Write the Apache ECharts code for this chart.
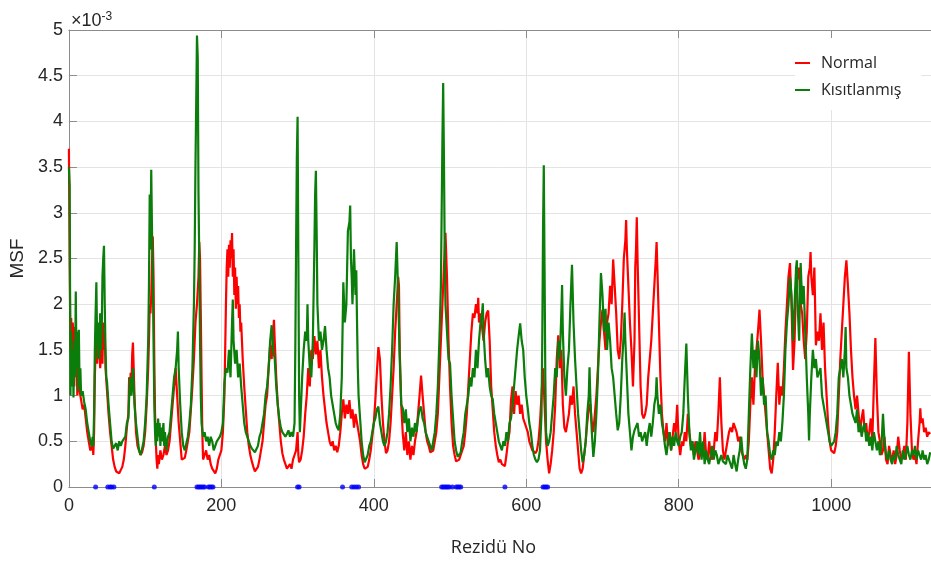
<!DOCTYPE html>
<html>
<head>
<meta charset="utf-8">
<script src="https://cdn.jsdelivr.net/npm/echarts@6/dist/echarts.min.js"></script>
<style>html,body{margin:0;padding:0;background:#fff;}#c{width:931px;height:563px;}</style>
</head>
<body>
<div id="c"></div>
<script>
// MSF values in units of 1e-3, [residue, value]
const normal = [[0,3.70],[1,2.4],[2,1.5],[3,1.85],[4,1.2],[5,1.8],[6,1.6],[7,1.1],[8,1.75],[9,1.3],[10,1.5],[11,1.0],[12,1.2],[14,1.05],[16,0.95],[18,0.85],[20,0.9],[22,0.75],[24,0.6],[26,0.5],[28,0.4],[30,0.38],[31,0.45],[32,0.35],[33,0.6],[34,1.2],[35,1.5],[36,1.8],[37,1.35],[38,1.5],[39,1.4],[40,1.6],[41,1.3],[42,1.45],[43,1.65],[44,1.35],[45,1.8],[46,1.5],[47,1.7],[48,1.3],[50,1.05],[52,0.8],[54,0.6],[56,0.45],[58,0.3],[60,0.22],[62,0.17],[64,0.15],[66,0.15],[68,0.17],[70,0.22],[72,0.3],[74,0.45],[76,0.65],[78,0.8],[79,1.2],[80,1.0],[81,1.25],[82,1.1],[83,1.45],[84,1.58],[85,1.3],[86,1.0],[87,0.8],[88,0.6],[90,0.45],[92,0.4],[94,0.35],[96,0.38],[98,0.45],[100,0.6],[102,0.9],[104,1.3],[105,1.6],[106,2.0],[107,1.9],[108,2.1],[109,2.45],[110,2.74],[111,2.3],[112,1.4],[113,0.8],[114,0.5],[115,0.3],[116,0.2],[117,0.35],[118,0.25],[120,0.4],[122,0.3],[124,0.35],[126,0.45],[128,0.35],[130,0.4],[132,0.5],[134,0.7],[136,0.9],[138,1.1],[140,1.3],[142,1.0],[144,0.7],[146,0.5],[148,0.3],[150,0.3],[152,0.32],[154,0.4],[156,0.5],[158,0.6],[160,0.85],[162,1.1],[164,1.4],[166,1.8],[168,2.0],[170,2.3],[171,2.68],[172,2.5],[173,1.9],[174,1.2],[175,0.6],[176,0.3],[178,0.35],[180,0.4],[182,0.3],[184,0.35],[186,0.25],[188,0.2],[190,0.18],[192,0.15],[194,0.2],[196,0.3],[198,0.35],[200,0.4],[202,0.6],[204,1.0],[205,1.5],[206,2.0],[207,2.4],[208,2.6],[209,2.3],[210,2.65],[211,2.4],[212,2.7],[213,2.5],[214,2.78],[215,2.3],[216,2.6],[217,2.1],[218,2.4],[219,1.95],[220,2.3],[221,2.0],[222,2.2],[223,1.85],[224,2.0],[225,1.7],[226,1.8],[228,1.4],[230,1.1],[232,0.85],[234,0.6],[236,0.45],[238,0.35],[240,0.28],[242,0.22],[244,0.17],[246,0.18],[248,0.22],[250,0.3],[252,0.4],[254,0.5],[256,0.7],[258,0.9],[260,1.0],[262,1.3],[264,1.55],[266,1.4],[268,1.7],[269,1.83],[270,1.6],[272,1.2],[274,0.9],[276,0.7],[278,0.5],[280,0.37],[282,0.3],[284,0.25],[286,0.2],[288,0.2],[290,0.25],[292,0.2],[294,0.3],[296,0.35],[298,0.4],[300,0.6],[301,0.35],[302,0.27],[304,0.3],[306,0.4],[308,0.55],[310,0.8],[312,1.0],[314,1.3],[316,1.1],[318,1.5],[320,1.4],[322,1.65],[324,1.45],[326,1.6],[328,1.3],[330,1.5],[332,1.2],[334,1.0],[336,0.85],[338,0.7],[340,0.6],[342,0.5],[344,0.45],[346,0.5],[348,0.4],[350,0.45],[352,0.38],[354,0.45],[356,0.6],[358,0.8],[360,0.96],[362,0.75],[364,0.9],[366,0.8],[368,0.95],[370,0.75],[372,0.85],[374,0.65],[376,0.8],[378,0.7],[380,0.6],[382,0.5],[384,0.35],[386,0.25],[388,0.2],[390,0.2],[392,0.22],[394,0.3],[396,0.4],[398,0.55],[400,0.7],[402,0.95],[404,1.25],[406,1.53],[408,1.4],[410,1.0],[412,0.7],[414,0.5],[416,0.37],[418,0.4],[420,0.5],[422,0.7],[424,1.0],[426,1.3],[428,1.7],[430,2.0],[432,2.3],[433,2.2],[434,1.5],[436,0.9],[438,0.58],[440,0.4],[442,0.6],[444,0.35],[446,0.5],[448,0.3],[450,0.45],[452,0.35],[454,0.5],[456,0.6],[458,0.8],[460,1.0],[462,1.22],[464,1.0],[466,0.8],[468,0.6],[470,0.5],[472,0.45],[474,0.38],[476,0.37],[478,0.4],[480,0.5],[482,0.6],[484,0.8],[486,1.2],[488,1.6],[490,2.0],[492,2.4],[494,2.78],[496,2.3],[498,1.6],[500,1.1],[502,0.7],[504,0.45],[506,0.35],[508,0.28],[510,0.27],[512,0.3],[514,0.35],[516,0.4],[518,0.45],[520,0.6],[522,0.8],[524,1.1],[526,1.4],[528,1.7],[530,1.9],[532,1.85],[534,2.0],[536,1.9],[537,2.07],[538,1.8],[540,1.9],[542,1.75],[544,1.6],[546,1.8],[548,1.9],[550,1.93],[552,1.6],[554,1.1],[556,0.85],[558,0.6],[560,0.45],[562,0.35],[564,0.27],[566,0.3],[568,0.25],[570,0.24],[572,0.23],[574,0.35],[576,0.5],[578,0.6],[580,0.95],[582,1.1],[584,0.8],[586,1.05],[588,0.9],[590,1.0],[592,0.8],[594,0.9],[596,0.75],[598,0.7],[600,0.7],[602,0.6],[604,0.5],[606,0.45],[608,0.4],[610,0.38],[612,0.37],[614,0.4],[616,0.5],[618,0.7],[620,1.0],[622,1.3],[624,0.9],[626,0.5],[628,0.3],[630,0.15],[632,0.25],[634,0.4],[636,0.6],[638,0.9],[640,1.4],[642,1.66],[644,1.3],[646,1.5],[648,0.9],[650,0.65],[652,0.6],[654,0.62],[656,0.8],[658,1.0],[660,0.9],[662,1.1],[664,0.8],[666,0.6],[668,0.4],[670,0.2],[672,0.15],[674,0.2],[676,0.35],[678,0.5],[680,0.7],[682,0.85],[684,0.91],[686,0.7],[688,0.6],[690,0.8],[692,1.0],[694,1.3],[696,1.6],[698,1.8],[700,1.94],[702,1.7],[704,1.5],[706,1.8],[708,1.9],[710,2.2],[712,2.0],[714,2.49],[716,2.2],[718,1.9],[720,1.5],[722,1.4],[724,1.6],[726,2.0],[728,2.5],[730,2.7],[731,2.92],[732,2.6],[734,2.2],[736,1.8],[738,1.5],[740,1.1],[742,1.6],[743,2.4],[744,2.6],[745,2.95],[746,2.5],[748,1.8],[750,1.1],[752,0.8],[754,0.75],[756,0.8],[758,0.9],[760,1.2],[762,1.4],[764,1.6],[766,1.9],[768,2.2],[770,2.5],[771,2.68],[772,2.4],[774,1.8],[776,1.2],[778,0.8],[780,0.6],[782,0.5],[784,0.7],[786,0.45],[788,0.6],[790,0.4],[792,0.55],[794,0.7],[796,0.6],[798,0.9],[800,0.5],[802,0.35],[804,0.5],[806,0.45],[808,0.6],[810,0.5],[812,0.8],[814,0.6],[816,0.45],[818,0.5],[820,0.35],[822,0.5],[824,0.4],[826,0.3],[828,0.35],[830,0.45],[832,0.35],[834,0.6],[836,0.35],[838,0.3],[840,0.5],[842,0.35],[844,0.3],[846,0.4],[848,0.6],[850,0.5],[852,0.8],[854,1.2],[856,0.7],[858,0.4],[860,0.3],[862,0.4],[864,0.5],[866,0.6],[868,0.65],[870,0.6],[872,0.7],[874,0.65],[876,0.6],[878,0.5],[880,0.55],[882,0.4],[884,0.35],[886,0.3],[888,0.35],[890,0.3],[892,0.5],[894,0.9],[896,1.2],[898,0.9],[900,1.3],[902,1.5],[904,1.7],[906,1.94],[908,1.6],[910,1.2],[912,1.0],[914,0.8],[916,0.6],[918,0.4],[920,0.2],[922,0.15],[924,0.3],[926,0.6],[928,1.0],[930,1.36],[932,0.9],[934,1.1],[936,1.0],[938,1.3],[940,1.7],[942,2.0],[944,2.3],[946,2.45],[948,2.0],[950,1.28],[952,1.6],[954,2.2],[956,2.3],[958,2.4],[960,2.0],[962,1.9],[964,1.6],[966,1.4],[968,1.7],[970,2.3],[972,2.4],[973,2.57],[974,2.3],[976,2.1],[978,2.4],[980,1.55],[982,1.7],[984,1.6],[986,1.9],[988,1.5],[990,1.8],[992,1.3],[994,1.0],[996,0.7],[998,0.5],[1000,0.4],[1002,0.38],[1004,0.37],[1006,0.45],[1008,0.6],[1010,1.0],[1012,1.4],[1014,1.7],[1016,2.0],[1018,2.3],[1020,2.48],[1022,2.2],[1024,1.9],[1026,1.5],[1028,1.2],[1030,1.0],[1032,0.85],[1034,1.0],[1036,0.8],[1038,0.6],[1040,0.75],[1042,0.85],[1044,0.6],[1046,0.7],[1048,0.5],[1050,0.6],[1052,0.75],[1054,0.5],[1056,1.1],[1058,1.63],[1060,1.0],[1062,0.6],[1064,0.5],[1066,0.35],[1068,0.4],[1070,0.55],[1072,0.3],[1074,0.25],[1076,0.45],[1078,0.35],[1080,0.3],[1082,0.4],[1084,0.25],[1086,0.35],[1088,0.55],[1090,0.4],[1092,0.3],[1094,0.35],[1096,0.45],[1098,0.3],[1100,0.7],[1102,1.48],[1104,0.8],[1106,0.4],[1108,0.3],[1110,0.35],[1112,0.25],[1114,0.5],[1116,0.7],[1117,0.86],[1118,0.7],[1120,0.75],[1122,0.6],[1124,0.65],[1126,0.55],[1128,0.6],[1130,0.58]];

const restrained = [[0,3.5],[1,3.3],[2,1.0],[3,1.7],[4,1.1],[5,1.5],[6,0.98],[7,1.6],[8,1.2],[9,2.14],[10,1.3],[11,1.7],[12,1.05],[13,1.72],[14,1.1],[15,1.3],[16,1.0],[18,1.05],[20,0.93],[22,0.85],[24,0.7],[26,0.6],[28,0.5],[30,0.44],[31,0.55],[32,0.45],[33,0.8],[34,1.5],[35,1.9],[36,2.24],[37,1.6],[38,1.4],[39,1.8],[40,1.4],[41,1.9],[42,1.5],[43,1.7],[44,2.3],[45,2.5],[46,2.64],[47,2.0],[48,1.5],[49,1.2],[50,1.15],[52,0.9],[54,0.7],[56,0.5],[58,0.42],[60,0.4],[62,0.48],[64,0.4],[66,0.5],[68,0.45],[70,0.5],[72,0.48],[74,0.55],[76,0.7],[78,0.75],[80,1.2],[82,1.0],[84,1.3],[85,1.1],[86,0.9],[88,0.7],[90,0.55],[92,0.4],[94,0.35],[96,0.42],[98,0.5],[100,0.7],[102,1.0],[104,1.6],[105,2.2],[106,3.2],[107,2.6],[108,3.47],[109,2.8],[110,2.4],[111,1.6],[112,0.9],[113,0.6],[114,0.45],[115,0.7],[116,0.5],[117,0.75],[118,0.55],[119,0.7],[120,0.45],[121,0.65],[122,0.5],[124,0.7],[125,0.45],[126,0.6],[128,0.4],[130,0.55],[132,0.6],[134,0.8],[136,1.0],[138,1.2],[140,1.3],[142,1.5],[143,1.7],[144,1.3],[146,0.9],[148,0.6],[150,0.45],[152,0.4],[154,0.42],[156,0.55],[158,0.7],[160,0.9],[162,1.3],[164,2.0],[165,2.6],[166,3.5],[167,4.2],[168,4.94],[169,4.7],[170,3.2],[171,2.5],[172,1.6],[173,1.0],[174,0.7],[176,0.55],[178,0.6],[180,0.5],[182,0.55],[184,0.45],[186,0.55],[188,0.5],[190,0.4],[192,0.45],[194,0.5],[196,0.48],[198,0.55],[200,0.6],[202,0.7],[204,1.14],[206,1.3],[208,1.25],[210,1.5],[212,1.2],[214,1.8],[215,2.05],[216,1.6],[218,1.35],[220,1.5],[222,1.2],[224,1.35],[226,1.1],[228,0.9],[230,0.7],[232,0.6],[234,0.55],[236,0.5],[238,0.45],[240,0.42],[242,0.4],[244,0.38],[246,0.4],[248,0.45],[250,0.55],[252,0.6],[254,0.7],[256,0.8],[258,1.0],[260,1.1],[262,1.3],[264,1.6],[266,1.77],[268,1.5],[270,1.4],[272,1.1],[274,0.9],[276,0.75],[278,0.65],[280,0.6],[282,0.58],[284,0.55],[286,0.58],[288,0.62],[290,0.55],[292,0.6],[294,0.55],[296,0.7],[297,1.5],[298,2.6],[299,3.6],[300,4.05],[301,2.5],[302,1.0],[303,0.6],[304,0.8],[306,1.2],[308,1.5],[310,1.7],[312,1.6],[313,2.0],[314,1.6],[316,1.3],[318,1.2],[320,1.6],[322,2.6],[323,3.2],[324,3.46],[325,2.8],[326,2.0],[328,1.6],[330,1.7],[332,1.5],[334,1.6],[336,1.76],[338,1.5],[340,1.3],[342,1.2],[344,1.0],[346,0.9],[348,0.8],[350,0.7],[352,0.65],[354,0.62],[356,0.8],[358,1.2],[360,2.24],[362,1.8],[364,2.0],[366,2.8],[368,2.9],[369,3.08],[370,2.5],[371,2.3],[372,2.0],[374,2.6],[376,2.1],[377,2.37],[378,1.8],[379,1.3],[380,1.0],[382,0.75],[384,0.5],[386,0.35],[388,0.27],[390,0.28],[392,0.35],[394,0.45],[396,0.5],[398,0.6],[400,0.7],[402,0.75],[404,0.85],[406,0.88],[408,0.7],[410,0.6],[412,0.5],[414,0.45],[416,0.5],[418,0.6],[420,0.8],[422,1.1],[424,1.5],[426,2.0],[428,2.3],[430,2.68],[432,2.1],[434,1.4],[436,0.9],[438,0.86],[440,0.7],[442,0.85],[444,0.6],[446,0.75],[448,0.5],[450,0.65],[452,0.55],[454,0.7],[456,0.6],[458,0.75],[460,0.85],[462,0.88],[464,0.75],[466,0.7],[468,0.6],[470,0.55],[472,0.5],[474,0.45],[476,0.4],[478,0.5],[480,0.6],[482,0.8],[484,1.1],[486,1.6],[488,2.2],[489,3.0],[490,3.8],[491,4.42],[492,3.6],[493,2.6],[494,2.0],[496,1.7],[498,1.4],[500,1.35],[502,1.0],[504,0.75],[506,0.5],[508,0.4],[510,0.33],[512,0.35],[514,0.38],[516,0.5],[518,0.6],[520,0.8],[522,0.9],[524,1.0],[526,1.2],[528,1.1],[530,1.3],[532,1.2],[534,1.5],[536,1.3],[538,1.6],[540,1.8],[542,1.9],[543,2.01],[544,1.7],[546,1.4],[548,1.2],[550,1.3],[552,1.1],[554,1.0],[556,0.96],[558,0.8],[560,0.7],[562,0.6],[564,0.5],[566,0.45],[568,0.4],[570,0.5],[572,0.45],[574,0.6],[576,0.5],[578,0.7],[580,0.75],[582,0.9],[584,1.1],[586,1.3],[588,1.5],[590,1.65],[592,1.79],[594,1.6],[596,1.5],[598,1.2],[600,1.0],[602,0.86],[604,0.7],[606,0.6],[608,0.45],[610,0.35],[612,0.3],[614,0.27],[616,0.3],[618,0.4],[620,0.8],[621,1.6],[622,2.8],[623,3.52],[624,2.4],[625,1.2],[626,0.6],[628,0.45],[630,0.5],[632,0.6],[634,0.8],[636,1.0],[638,1.3],[640,1.2],[642,1.6],[644,1.4],[646,1.9],[647,2.21],[648,1.7],[650,1.2],[652,1.0],[654,1.3],[656,1.5],[658,2.0],[660,2.43],[662,1.8],[664,1.4],[666,1.1],[668,0.8],[670,0.6],[672,0.4],[674,0.27],[676,0.35],[678,0.5],[680,0.8],[682,1.0],[683,1.31],[684,1.0],[686,0.6],[688,0.33],[690,0.5],[692,0.8],[694,1.2],[696,1.8],[698,2.34],[700,2.1],[702,1.7],[704,1.95],[706,1.5],[708,1.8],[710,1.6],[712,1.3],[714,1.2],[716,1.0],[718,0.8],[720,0.62],[722,0.7],[724,1.0],[726,1.4],[728,1.7],[729,1.91],[730,1.6],[732,1.2],[734,0.8],[736,0.6],[738,0.4],[740,0.55],[742,0.62],[744,0.6],[746,0.7],[748,0.55],[750,0.6],[752,0.5],[754,0.55],[756,0.6],[758,0.45],[760,0.6],[762,0.7],[764,0.55],[766,0.7],[768,0.9],[770,1.0],[771,1.2],[772,1.0],[774,0.8],[776,0.9],[778,0.7],[780,0.6],[782,0.45],[784,0.35],[786,0.5],[788,0.6],[790,0.4],[792,0.55],[794,0.45],[796,0.6],[798,0.5],[800,0.45],[802,0.55],[804,0.6],[806,0.8],[808,1.2],[810,1.57],[812,1.0],[814,0.6],[816,0.4],[818,0.5],[820,0.3],[822,0.4],[824,0.5],[826,0.35],[828,0.6],[830,0.3],[832,0.5],[834,0.25],[836,0.4],[838,0.3],[840,0.25],[842,0.35],[844,0.45],[846,0.3],[848,0.4],[850,0.35],[852,0.25],[854,0.3],[856,0.35],[858,0.28],[860,0.3],[862,0.25],[864,0.35],[866,0.3],[868,0.25],[870,0.2],[872,0.35],[874,0.25],[876,0.17],[878,0.3],[880,0.4],[882,0.55],[884,0.35],[886,0.25],[888,0.2],[890,0.3],[892,0.8],[894,1.3],[896,1.68],[898,1.3],[900,1.5],[902,1.2],[904,1.6],[906,1.4],[908,1.0],[910,1.2],[912,0.9],[914,1.0],[916,0.6],[918,0.5],[920,0.35],[922,0.3],[924,0.4],[926,0.35],[928,0.5],[930,0.45],[932,0.6],[934,0.5],[936,0.7],[938,1.0],[940,1.5],[942,1.8],[944,2.0],[946,2.3],[948,2.1],[950,1.6],[952,2.0],[954,2.4],[955,2.48],[956,2.0],[958,1.6],[960,2.45],[962,2.0],[964,2.2],[966,1.7],[968,1.2],[970,0.8],[971,0.51],[972,0.8],[974,1.2],[976,1.5],[978,1.3],[980,1.4],[982,1.2],[984,1.25],[986,1.3],[988,1.0],[990,0.9],[992,0.8],[994,0.7],[996,0.6],[998,0.5],[1000,0.45],[1002,0.44],[1004,0.5],[1006,0.6],[1008,0.8],[1010,1.2],[1012,1.3],[1014,1.4],[1016,1.2],[1018,1.5],[1019,1.75],[1020,1.3],[1022,1.2],[1024,1.0],[1026,0.9],[1028,0.8],[1030,0.75],[1032,0.7],[1034,0.85],[1036,0.6],[1038,0.7],[1040,0.55],[1042,0.65],[1044,0.7],[1046,0.5],[1048,0.6],[1050,0.45],[1052,0.55],[1054,0.4],[1056,0.6],[1058,0.5],[1060,0.4],[1062,0.5],[1064,0.35],[1066,0.45],[1068,0.8],[1070,0.5],[1072,0.35],[1074,0.3],[1076,0.4],[1078,0.3],[1080,0.25],[1082,0.35],[1084,0.3],[1086,0.45],[1088,0.35],[1090,0.3],[1092,0.25],[1094,0.4],[1096,0.3],[1098,0.35],[1100,0.45],[1102,0.35],[1104,0.3],[1106,0.4],[1108,0.35],[1110,0.45],[1112,0.3],[1114,0.4],[1116,0.35],[1118,0.3],[1120,0.4],[1122,0.3],[1124,0.35],[1126,0.25],[1128,0.3],[1130,0.38]];

// residues marked with blue dots on the x axis
const markedResidues = [35, 51, 54, 56, 59, 112, 168, 170, 172, 174, 176, 178, 183, 185, 187, 189, 300, 302, 359, 371, 374, 377, 380, 489, 491, 493, 495, 497, 499, 503, 508, 510, 512, 514, 572, 622, 624, 626, 628];

const seriesNames = ['Normal', 'Kısıtlanmış'];
const xLabel = 'Rezidü No';
const yLabel = 'MSF';

const chart = echarts.init(document.getElementById('c'));
const axisGray = '#8c8c8c';
const textCol = '#262626';
chart.setOption({
  animation: false,
  backgroundColor: '#fff',
  title: {
    text: '×10{sup|-3}',
    left: 66, top: 6,
    textStyle: {
      fontFamily: 'Liberation Sans', fontSize: 18, fontWeight: 'normal', color: textCol,
      rich: { sup: { fontSize: 12, verticalAlign: 'top', color: textCol, fontFamily: 'Liberation Sans', padding: [0,0,8,0] } }
    }
  },
  legend: {
    data: seriesNames,
    orient: 'vertical',
    left: 795, top: 38,
    padding: [15, 20, 10, 0],
    backgroundColor: '#fff',
    itemGap: 7,
    icon: 'rect', itemWidth: 15, itemHeight: 2,
    textStyle: { fontFamily: 'Open Sans', fontSize: 16, color: textCol, lineHeight: 20, padding: [0,0,0,6] }
  },
  grid: { left: 67, right: 0, top: 30, bottom: 76, containLabel: false },
  xAxis: [{
    type: 'value', min: 0, max: 1131, interval: 200,
    name: xLabel, nameLocation: 'middle', nameGap: 52,
    nameTextStyle: { fontFamily: 'Open Sans', fontSize: 18, color: textCol, padding: [0, 13, 0, 0] },
    axisLine: { show: true, lineStyle: { color: axisGray, width: 1 } },
    axisTick: { show: true, inside: true, length: 8, lineStyle: { color: axisGray } },
    axisLabel: { fontFamily: 'Liberation Sans', fontSize: 18, color: textCol, margin: 10, showMaxLabel: false,
      formatter: v => String(v) },
    splitLine: { show: true, lineStyle: { color: '#e4e4e4', width: 1 } }
  }, {
    type: 'value', min: 0, max: 1131, interval: 200, position: 'top',
    axisLine: { show: true, lineStyle: { color: axisGray, width: 1 } },
    axisTick: { show: true, inside: true, length: 8, lineStyle: { color: axisGray } },
    axisLabel: { show: false },
    splitLine: { show: false }
  }],
  yAxis: {
    type: 'value', min: 0, max: 5, interval: 0.5,
    name: yLabel, nameLocation: 'middle', nameGap: 38, nameRotate: 90,
    nameTextStyle: { fontFamily: 'Liberation Sans', fontSize: 19, color: textCol },
    axisLine: { show: true, lineStyle: { color: axisGray, width: 1 } },
    axisTick: { show: true, inside: true, length: 8, lineStyle: { color: axisGray } },
    axisLabel: { fontFamily: 'Liberation Sans', fontSize: 18, color: textCol, margin: 6 },
    splitLine: { show: true, lineStyle: { color: '#e4e4e4', width: 1 } }
  },
  series: [{
    name: seriesNames[0], type: 'line', data: normal, showSymbol: false, symbol: 'none',
    lineStyle: { color: '#ff0000', width: 2.2 }, itemStyle: { color: '#ff0000' }, z: 2
  }, {
    name: seriesNames[1], type: 'line', data: restrained, showSymbol: false, symbol: 'none',
    lineStyle: { color: '#0a7d0a', width: 2.2 }, itemStyle: { color: '#0a7d0a' }, z: 3
  }, {
    name: 'marked', type: 'scatter', data: markedResidues.map(r => [r, 0]),
    symbol: 'circle', symbolSize: 5, itemStyle: { color: '#0000ff' }, clip: false, z: 4
  }]
});
</script>
</body>
</html>
